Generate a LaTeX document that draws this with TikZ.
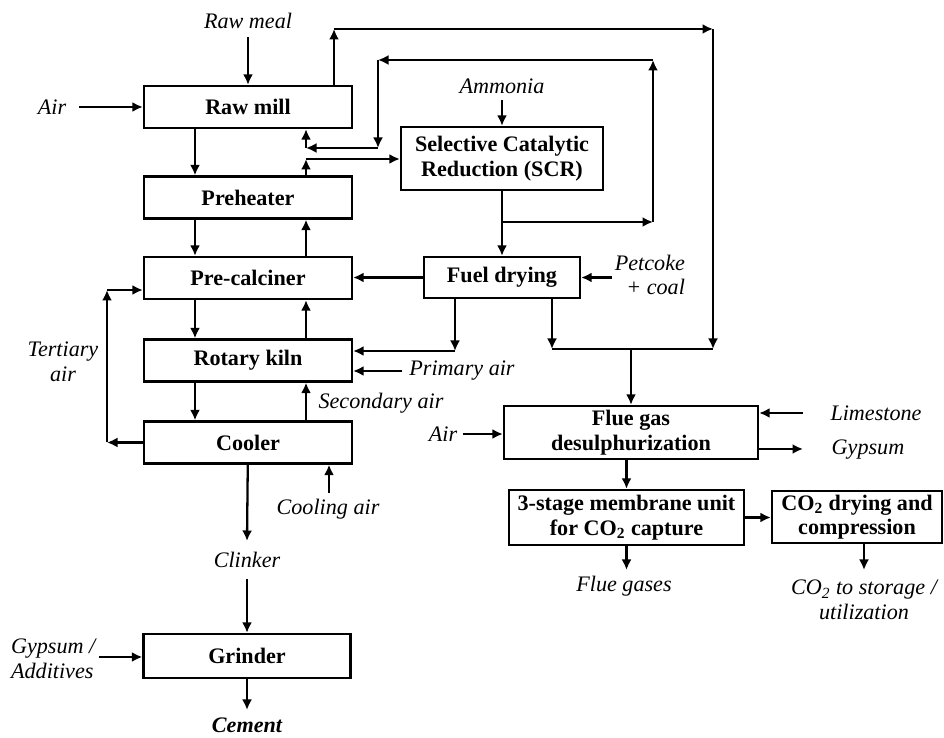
\documentclass[tikz,border=0pt]{standalone}
\usepackage{fontspec}
\setmainfont{Liberation Serif}
\usepackage{tikz, tkz-euclide}
\usetikzlibrary{arrows.meta}

\begin{document}
\fontsize{12.6}{14}\selectfont
\begin{tikzpicture}[
	unit/.style={draw, line width=1.3pt, font=\bfseries, align=center, inner sep=1pt, minimum width=4.16cm, minimum height=0.84cm},
	lbl/.style={font=\itshape, align=center, inner sep=1pt},
	flow/.style={line width=1.3pt, -{Latex[length=2.1mm,width=2mm]}},
	pipe/.style={line width=1.3pt}]
	\useasboundingbox (0,0) rectangle (18.88,14.76);
	\tkzDefPoints{3.90/0/Lx, 6.12/0/Rx, 4.96/14.02/M, 1.58/12.62/Ai, 10.04/12.76/N, 6.68/14.18/T1, 14.26/14.18/T2, 14.26/7.78/T3, 10.04/10.32/B1, 13.06/10.32/B2, 13.06/13.56/B3, 7.56/13.56/B4, 7.56/11.80/B5, 6.12/11.80/B6, 6.12/11.58/P1, 2.14/5.91/C1, 2.14/8.96/C2}
	\tkzDefPoints{9.10/7.74/F1, 11.04/7.78/F2, 12.62/7.78/J, 8.04/7.34/Pa, 12.24/9.21/Pc, 6.58/4.90/Ca, 4.94/3.94/K1, 4.94/3.18/K2, 4.94/0.56/K3, 1.98/1.62/Ga, 9.26/6.08/Fa, 16.06/6.50/Ls, 16.06/5.78/Gy, 12.53/3.36/E1, 17.28/3.36/E2}
	
	% process units
	\node[unit] (raw) at (4.96,12.62) {Raw mill};
	\node[unit] (pre) at (4.96,10.81) {Preheater};
	\node[unit] (calc) at (4.96,9.20) {Pre-calciner};
	\node[unit] (kiln) at (4.96,7.55) {Rotary kiln};
	\node[unit] (cooler) at (4.96,5.91) {Cooler};
	\node[unit, minimum width=4.14cm, minimum height=0.88cm] (grinder) at (4.94,1.64) {Grinder};
	\node[unit, minimum width=4.04cm, minimum height=1.26cm] (scr) at (10.04,11.59) {Selective Catalytic\\Reduction (SCR)};
	\node[unit, minimum width=3.12cm, minimum height=0.82cm] (fuel) at (10.04,9.21) {Fuel drying};
	\node[unit, minimum width=5.08cm, minimum height=1.06cm] (fgd) at (12.62,6.11) {Flue gas\\desulphurization};
	\node[unit, minimum width=4.70cm, minimum height=1.10cm] (mem) at (12.53,4.41) {3-stage membrane unit\\for CO\textsubscript{2} capture};
	\node[unit, minimum width=3.40cm, minimum height=1.04cm] (co2) at (17.14,4.42) {CO\textsubscript{2} drying and\\compression};
	
	% streams
	\node[lbl] (rawmeal) at (4.96,14.34) {Raw meal};
	\node[lbl] (air1) at (1.04,12.62) {Air};
	\node[lbl] (ammonia) at (10.04,13.04) {Ammonia};
	\node[lbl] (tertiary) at (1.26,7.52) {Tertiary\\air};
	\node[lbl, anchor=east, align=right] (petcoke) at (13.74,9.26) {Petcoke\\+ coal};
	\node[lbl] (primary) at (9.24,7.34) {Primary air};
	\node[lbl] (secondary) at (7.62,6.70) {Secondary air};
	\node[lbl] (cooling) at (6.56,4.58) {Cooling air};
	\node[lbl] (clinker) at (4.94,3.56) {Clinker};
	\node[lbl, anchor=west, align=left] (additives) at (0.18,1.58) {Gypsum /\\Additives};
	\node[lbl, font=\bfseries\itshape] (cement) at (4.94,0.26) {Cement};
	\node[lbl] (air2) at (8.86,6.08) {Air};
	\node[lbl] (limestone) at (17.52,6.50) {Limestone};
	\node[lbl] (gypsum) at (17.36,5.76) {Gypsum};
	\node[lbl] (flue) at (12.48,3.04) {Flue gases};
	\node[lbl] (storage) at (17.28,2.76) {CO\textsubscript{2} to storage /\\utilization};
	
	% kiln line
	\draw[flow] (M) -- (raw);
	\draw[flow] (Ai) -- (raw);
	\draw[flow] (raw.south -| Lx) -- (pre.north -| Lx);
	\draw[flow] (pre.south -| Lx) -- (calc.north -| Lx);
	\draw[flow] (calc.south -| Lx) -- (kiln.north -| Lx);
	\draw[flow] (kiln.south -| Lx) -- (cooler.north -| Lx);
	\draw[flow] (calc.north -| Rx) -- (pre.south -| Rx);
	\draw[flow] (kiln.north -| Rx) -- (calc.south -| Rx);
	\draw[flow] (cooler.north -| Rx) -- (kiln.south -| Rx);
	\draw[flow] (cooler.west) -- (C1);
	\draw[flow] (C1) -- (C2);
	\draw[flow] (C2) -- (calc.west |- C2);
	\draw[flow] (Ca) -- (cooler.south -| Ca);
	\draw[flow] (cooler) -- (K1);
	\draw[flow] (K2) -- (grinder);
	\draw[flow] (Ga) -- (grinder.west |- Ga);
	\draw[flow] (grinder) -- (K3);
	
	% gas loops
	\draw[flow] (raw.north -| T1) -- (T1);
	\draw[flow] (T1) -- (T2);
	\draw[flow] (T2) -- (T3);
	\draw[flow] (pre.north -| P1) -- (P1);
	\draw[flow] (P1) -- (scr.west |- P1);
	\draw[flow] (N) -- (scr);
	\draw[flow] (scr) -- (fuel);
	\draw[flow] (B1) -- (B2);
	\draw[flow] (B2) -- (B3);
	\draw[flow] (B3) -- (B4);
	\draw[flow] (B4) -- (B5);
	\draw[flow] (B5) -- (B6);
	\draw[flow] (B6) -- (raw.south -| B6);
	\draw[flow] (Pc) -- (fuel.east |- Pc);
	\draw[flow] (fuel.west) -- (calc.east |- fuel.west);
	\draw[flow] (fuel.south -| F1) -- (F1);
	\draw[flow] (F1) -- (kiln.east |- F1);
	\draw[flow] (Pa) -- (kiln.east |- Pa);
	\draw[flow] (fuel.south -| F2) -- (F2);
	\draw[pipe] (F2) -- (T3);
	\draw[flow] (J) -- (fgd.north -| J);
	
	% carbon capture
	\draw[flow] (Fa) -- (fgd.west |- Fa);
	\draw[flow] (Ls) -- (fgd.east |- Ls);
	\draw[flow] (fgd.east |- Gy) -- (Gy);
	\draw[flow] (fgd.south -| mem.north) -- (mem.north);
	\draw[flow] (mem.east) -- (co2.west |- mem.east);
	\draw[flow] (mem.south) -- (E1);
	\draw[flow] (co2.south -| E2) -- (E2);
\end{tikzpicture}
\end{document}
